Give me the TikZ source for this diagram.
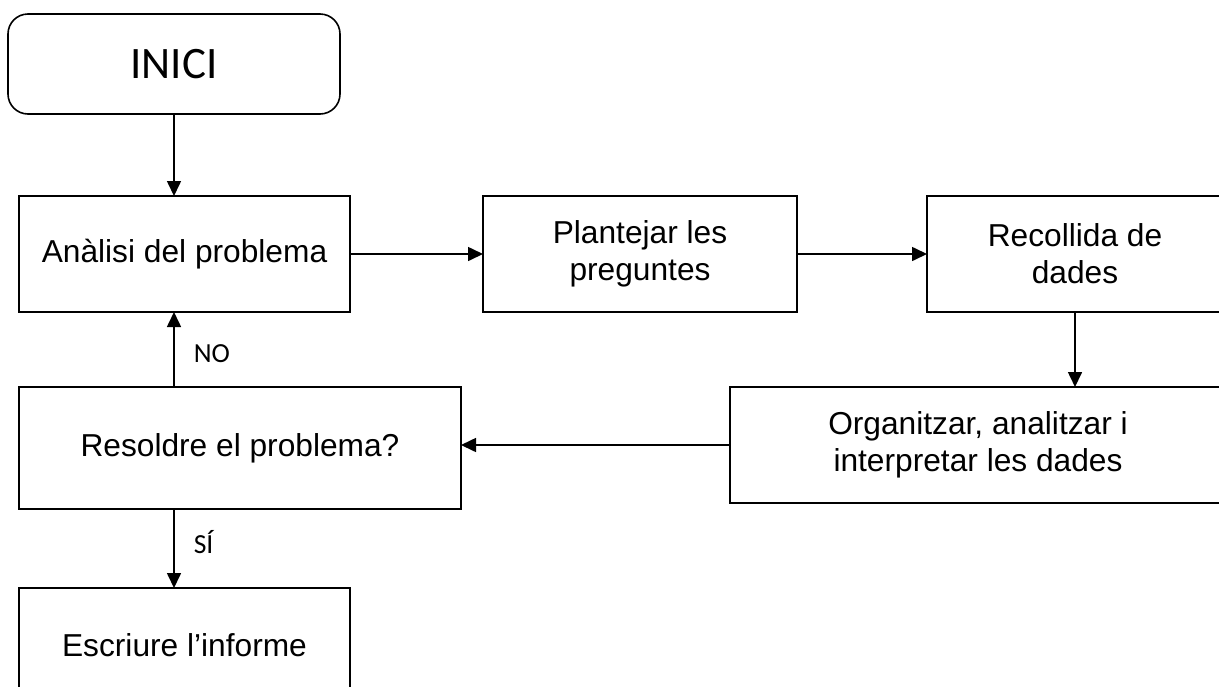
\documentclass[tikz,border=0pt]{standalone}
\usepackage{fontspec}
\setmainfont{Liberation Sans}
\newfontfamily\calibri{Carlito}
\usetikzlibrary{arrows.meta}
\tikzset{
    box/.style={draw, line width=0.8pt, inner sep=0pt, outer sep=0pt, align=center,
        minimum height=58pt, font=\fontsize{15.85}{18.5}\selectfont},
    flow/.style={-{Triangle[length=7.5pt,width=7pt]}, line width=0.8pt},
    answer/.style={anchor=west, inner sep=0pt, xshift=9.5pt, font=\calibri\fontsize{13.8}{16}\selectfont},
}

\begin{document}
\begin{tikzpicture}[x=0.5pt, y=-0.5pt]
\useasboundingbox (0,0) rectangle (1219,686);
\node[box, rounded corners=10pt, minimum width=166pt, minimum height=50pt,
    font=\calibri\fontsize{22.5}{27}\selectfont] (inici) at (174,64) {INICI};
\node[box, minimum width=165.5pt] (analisi) at (184.5,254) {Anàlisi del problema};
\node[box, minimum width=157pt] (plantejar) at (640,254) {Plantejar les\\preguntes};
\node[box, minimum width=148pt] (recollida) at (1075,254) {Recollida de\\dades};
\node[box, minimum width=248pt] (organitzar) at (978,445) {Organitzar, analitzar i\\interpretar les dades};
\node[box, minimum width=221pt, minimum height=61pt] (resoldre) at (240,448) {Resoldre el problema?};
\node[box, minimum width=165.5pt, minimum height=57pt] (escriure) at (184.5,645) {Escriure l’informe};
\draw[flow] (inici.south) -- (inici.south |- analisi.north);
\draw[flow] (analisi.east) -- (plantejar.west);
\draw[flow] (plantejar.east) -- (recollida.west);
\draw[flow] (recollida.south) -- (organitzar.north -| recollida.south);
\draw[flow] (organitzar.west) -- (organitzar.west -| resoldre.east);
\draw[flow] (resoldre.north -| inici.south) -- (analisi.south -| inici.south)
    node[answer, pos=0.45] (no) {NO};
\draw[flow] (resoldre.south -| inici.south) -- (escriure.north -| inici.south)
    node[answer, pos=0.42] (si) {SÍ};
\end{tikzpicture}
\end{document}
